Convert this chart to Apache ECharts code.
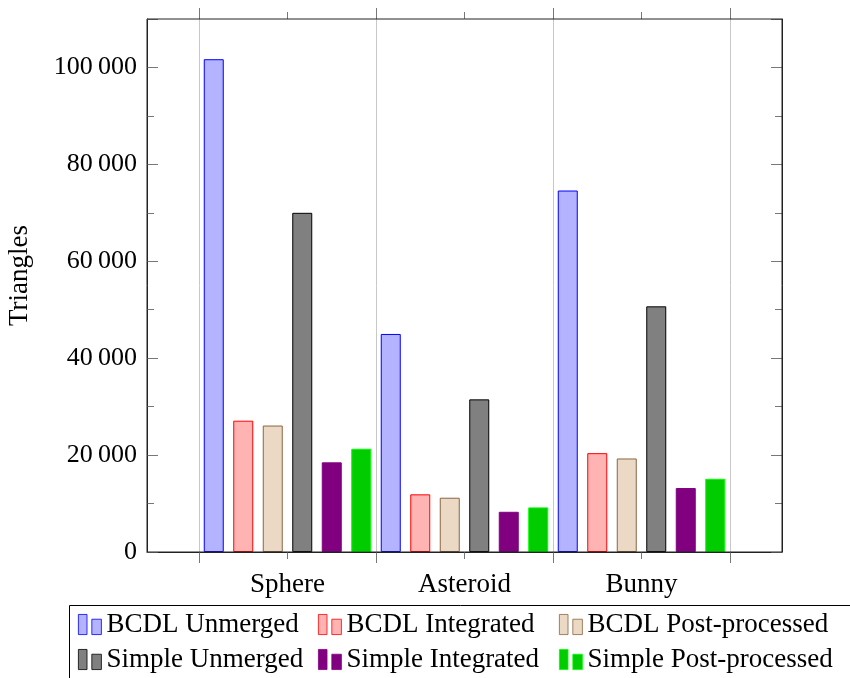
<!DOCTYPE html>
<html>
<head>
<meta charset="utf-8">
<script src="https://cdn.jsdelivr.net/npm/echarts@6/dist/echarts.min.js"></script>
<style>html,body{margin:0;padding:0;background:#fff}#c{width:850px;height:678px}</style>
</head>
<body>
<div id="c"></div>
<script>
const categories = ['Sphere', 'Asteroid', 'Bunny'];
const seriesNames = ['BCDL Unmerged', 'BCDL Integrated', 'BCDL Post-processed',
                     'Simple Unmerged', 'Simple Integrated', 'Simple Post-processed'];
const bcdlUnmerged     = [101700, 45000, 74600];
const bcdlIntegrated   = [27100, 11900, 20400];
const bcdlPost         = [26100, 11200, 19300];
const simpleUnmerged   = [70000, 31500, 50700];
const simpleIntegrated = [18500, 8300, 13200];
const simplePost       = [21300, 9200, 15100];
const yMin = 0, yMax = 110000, yStep = 20000;

const seriesValues = [bcdlUnmerged, bcdlIntegrated, bcdlPost, simpleUnmerged, simpleIntegrated, simplePost];
const fills   = ['#b3b3ff', '#ffb3b3', '#ebd9c5', '#808080', '#800080', '#00cc00'];
const borders = ['#0000ff', '#ff0000', '#8b6540', '#000000', '#800080', '#00ff00'];

const FONT = "'Liberation Serif', 'Times New Roman', serif";
const FS = 26;
const FS2 = 27;
const tickColor = '#777';
const frameColor = '#222';

function fmt(v) {
  return String(v).replace(/\B(?=(\d{3})+(?!\d))/g, '\u2009');
}

const chart = echarts.init(document.getElementById('c'), null, {renderer: 'canvas'});

const gridA = {left: 199, right: 120, top: 19, bottom: 126, outerBoundsMode: 'none', containLabel: false};
const gridB = {left: 147, right: 68, top: 19, bottom: 126, outerBoundsMode: 'none', containLabel: false,
               show: true, borderColor: frameColor, borderWidth: 1, backgroundColor: 'transparent', z: 3};

function catAxis(pos, align, len, showLabel, split) {
  return {
    type: 'category', gridIndex: 0, position: pos, data: categories,
    boundaryGap: true,
    axisLine: {show: false},
    axisTick: {show: true, alignWithLabel: align, length: len, inside: false, lineStyle: {color: tickColor, width: 1}},
    axisLabel: {show: showLabel, margin: 19, color: '#000', fontFamily: FONT, fontSize: FS2},
    splitLine: {show: split, lineStyle: {color: '#c8c8c8', width: 1}}
  };
}

const legendPos = [[78, 611], [318, 611], [559, 611], [78, 646], [318, 646], [559, 646]];
const legends = seriesNames.map((n, i) => ({
  data: [n],
  left: legendPos[i][0], top: legendPos[i][1],
  padding: 0,
  selectedMode: false,
  icon: 'path://M0,0 H9 V21 H0 Z M14,5 H24 V21 H14 Z',
  itemWidth: 23, itemHeight: 21,
  itemStyle: {borderWidth: 0.8},
  textStyle: {fontFamily: FONT, fontSize: FS2, color: '#000', lineHeight: 26}
}));

const option = {
  animation: false,
  backgroundColor: '#fff',
  grid: [gridA, gridB],
  xAxis: [
    catAxis('bottom', false, 11, true, true),
    catAxis('bottom', true, 7, false, false),
    catAxis('top', false, 11, false, false),
    catAxis('top', true, 7, false, false),
    {type: 'value', gridIndex: 1, min: 0, max: 1, position: 'bottom',
     axisLine: {show: true, lineStyle: {color: frameColor, width: 1}},
     axisTick: {show: false}, axisLabel: {show: false}, splitLine: {show: false}}
  ],
  yAxis: [
    {type: 'value', gridIndex: 0, min: yMin, max: yMax, interval: yStep, show: false},
    {type: 'value', gridIndex: 1, min: yMin, max: yMax, interval: yStep, position: 'left',
     name: 'Triangles', nameLocation: 'middle', nameGap: 114,
     nameTextStyle: {fontFamily: FONT, fontSize: FS2, color: '#000', padding: [0, 0, 0, 20]},
     axisLine: {show: true, lineStyle: {color: frameColor, width: 1}},
     axisTick: {show: true, inside: true, length: 11, lineStyle: {color: tickColor}},
     minorTick: {show: true, splitNumber: 2, length: 7, lineStyle: {color: tickColor}},
     axisLabel: {margin: 10, color: '#000', fontFamily: FONT, fontSize: FS, formatter: fmt, showMaxLabel: false},
     splitLine: {show: false}},
    {type: 'value', gridIndex: 1, min: yMin, max: yMax, interval: yStep, position: 'right',
     axisLine: {show: true, lineStyle: {color: frameColor, width: 1}},
     axisTick: {show: true, inside: true, length: 11, lineStyle: {color: tickColor}},
     minorTick: {show: true, splitNumber: 2, length: 7, lineStyle: {color: tickColor}},
     axisLabel: {show: false}, splitLine: {show: false}}
  ],
  legend: legends,
  series: seriesNames.map((n, i) => ({
    name: n, type: 'bar', xAxisIndex: 0, yAxisIndex: 0,
    data: seriesValues[i],
    barWidth: 20, barGap: '47.5%',
    itemStyle: {color: fills[i], borderColor: borders[i], borderWidth: 1},
    emphasis: {disabled: true}
  })),
  graphic: [{
    type: 'rect', shape: {x: 69.5, y: 605.5, width: 800, height: 100},
    style: {fill: 'none', stroke: '#000', lineWidth: 1}, silent: true
  }]
};
chart.setOption(option);
</script>
</body>
</html>
